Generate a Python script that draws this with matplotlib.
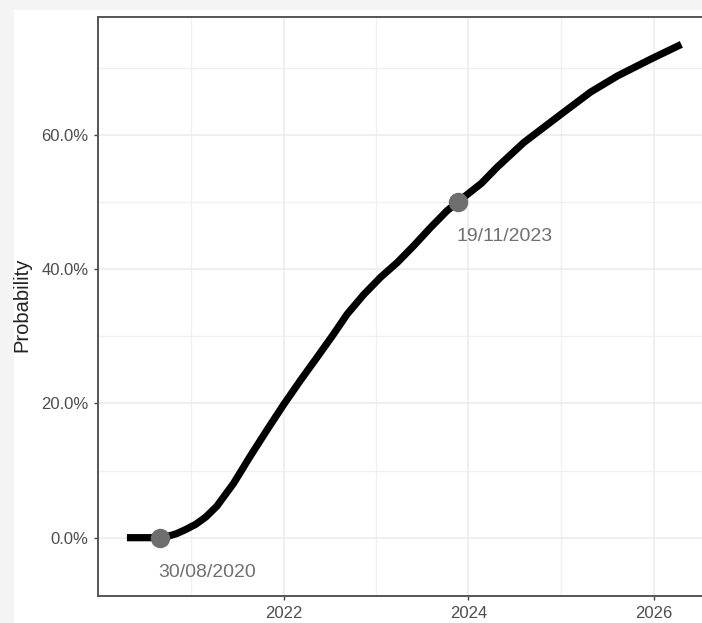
import numpy as np
import pandas as pd
import matplotlib
matplotlib.use("Agg")
import matplotlib.pyplot as plt
import matplotlib.dates as mdates
from matplotlib.ticker import PercentFormatter, MultipleLocator
from matplotlib.patches import Rectangle

plt.rcParams['font.family'] = ['Liberation Sans', 'DejaVu Sans']

# Cumulative probability curve
dates = ["2020-04-23", "2020-08-30", "2020-10-01", "2020-11-05", "2020-12-10",
         "2021-01-20", "2021-03-01", "2021-04-13", "2021-06-18", "2021-08-22",
         "2021-10-27", "2022-01-01", "2022-03-08", "2022-05-12", "2022-07-17",
         "2022-09-09", "2022-11-13", "2023-01-19", "2023-03-26", "2023-05-30",
         "2023-08-04", "2023-10-08", "2023-11-19", "2024-02-21", "2024-04-23",
         "2024-08-07", "2025-01-11", "2025-04-27", "2025-08-11", "2025-12-20",
         "2026-04-20"]
prob = [0.000, 0.000, 0.002, 0.006, 0.012,
        0.020, 0.031, 0.047, 0.081, 0.121,
        0.160, 0.198, 0.234, 0.268, 0.303,
        0.333, 0.362, 0.388, 0.410, 0.435,
        0.462, 0.487, 0.500, 0.528, 0.552,
        0.589, 0.634, 0.664, 0.688, 0.713,
        0.735]

# Highlighted points
mark_dates = ["2020-08-30", "2023-11-19"]
mark_prob = [0.0, 0.5]
mark_labels = ["30/08/2020", "19/11/2023"]

t = pd.to_datetime(dates)
tm = pd.to_datetime(mark_dates)
year_ticks = pd.to_datetime(["2022-01-01", "2024-01-01", "2026-01-01"])
year_minor = pd.to_datetime(["2021-01-01", "2023-01-01", "2025-01-01"])

fig = plt.figure(figsize=(7.02, 6.23), dpi=100)
fig.patch.set_facecolor("#f4f4f4")
fig.patches.append(Rectangle((14 / 702, 0), 1, 1 - 10 / 623, transform=fig.transFigure,
                             facecolor="white", edgecolor="none", zorder=-1))

ax = fig.add_axes([98.3 / 702, 27 / 623, (712 - 98.3) / 702, (596 - 17) / 623])
ax.set_facecolor("white")

ax.plot(t, prob, color="black", lw=5.2, solid_capstyle="butt", solid_joinstyle="round", zorder=3)
ax.plot(tm, mark_prob, "o", color="#6e6e6e", markersize=14, markeredgewidth=0, zorder=4)
for d, p, lab in zip(tm, mark_prob, mark_labels):
    ax.annotate(lab, (d, p), xytext=(-1, -25), textcoords="offset points",
                ha="left", va="center", fontsize=14, color="#707070")

ax.set_xlim(pd.Timestamp("2020-01-01"), pd.Timestamp("2026-08-19"))
ax.set_ylim(-0.0869, 0.7758)

ax.set_xticks(year_ticks)
ax.set_xticks(year_minor, minor=True)
ax.xaxis.set_major_formatter(mdates.DateFormatter("%Y"))
ax.yaxis.set_major_locator(MultipleLocator(0.2))
ax.yaxis.set_minor_locator(MultipleLocator(0.1))
ax.yaxis.set_major_formatter(PercentFormatter(1.0, decimals=1))

ax.grid(which="major", color="#ebebeb", lw=1.1, zorder=0)
ax.grid(which="minor", color="#f0f0f0", lw=1.0, zorder=0)
ax.set_axisbelow(True)

for s in ax.spines.values():
    s.set_color("#555555")
    s.set_linewidth(1.4)

ax.tick_params(which="major", length=3, width=1, color="#444444",
               labelsize=12, labelcolor="#4d4d4d", pad=4)
ax.tick_params(which="minor", length=0)

ax.set_ylabel("Probability", fontsize=14.5, color="#222222", va="center")
ax.yaxis.set_label_coords((22 - 98.3) / 613.7, (596 - 305) / 579)

fig.savefig("out.png", dpi=100)
